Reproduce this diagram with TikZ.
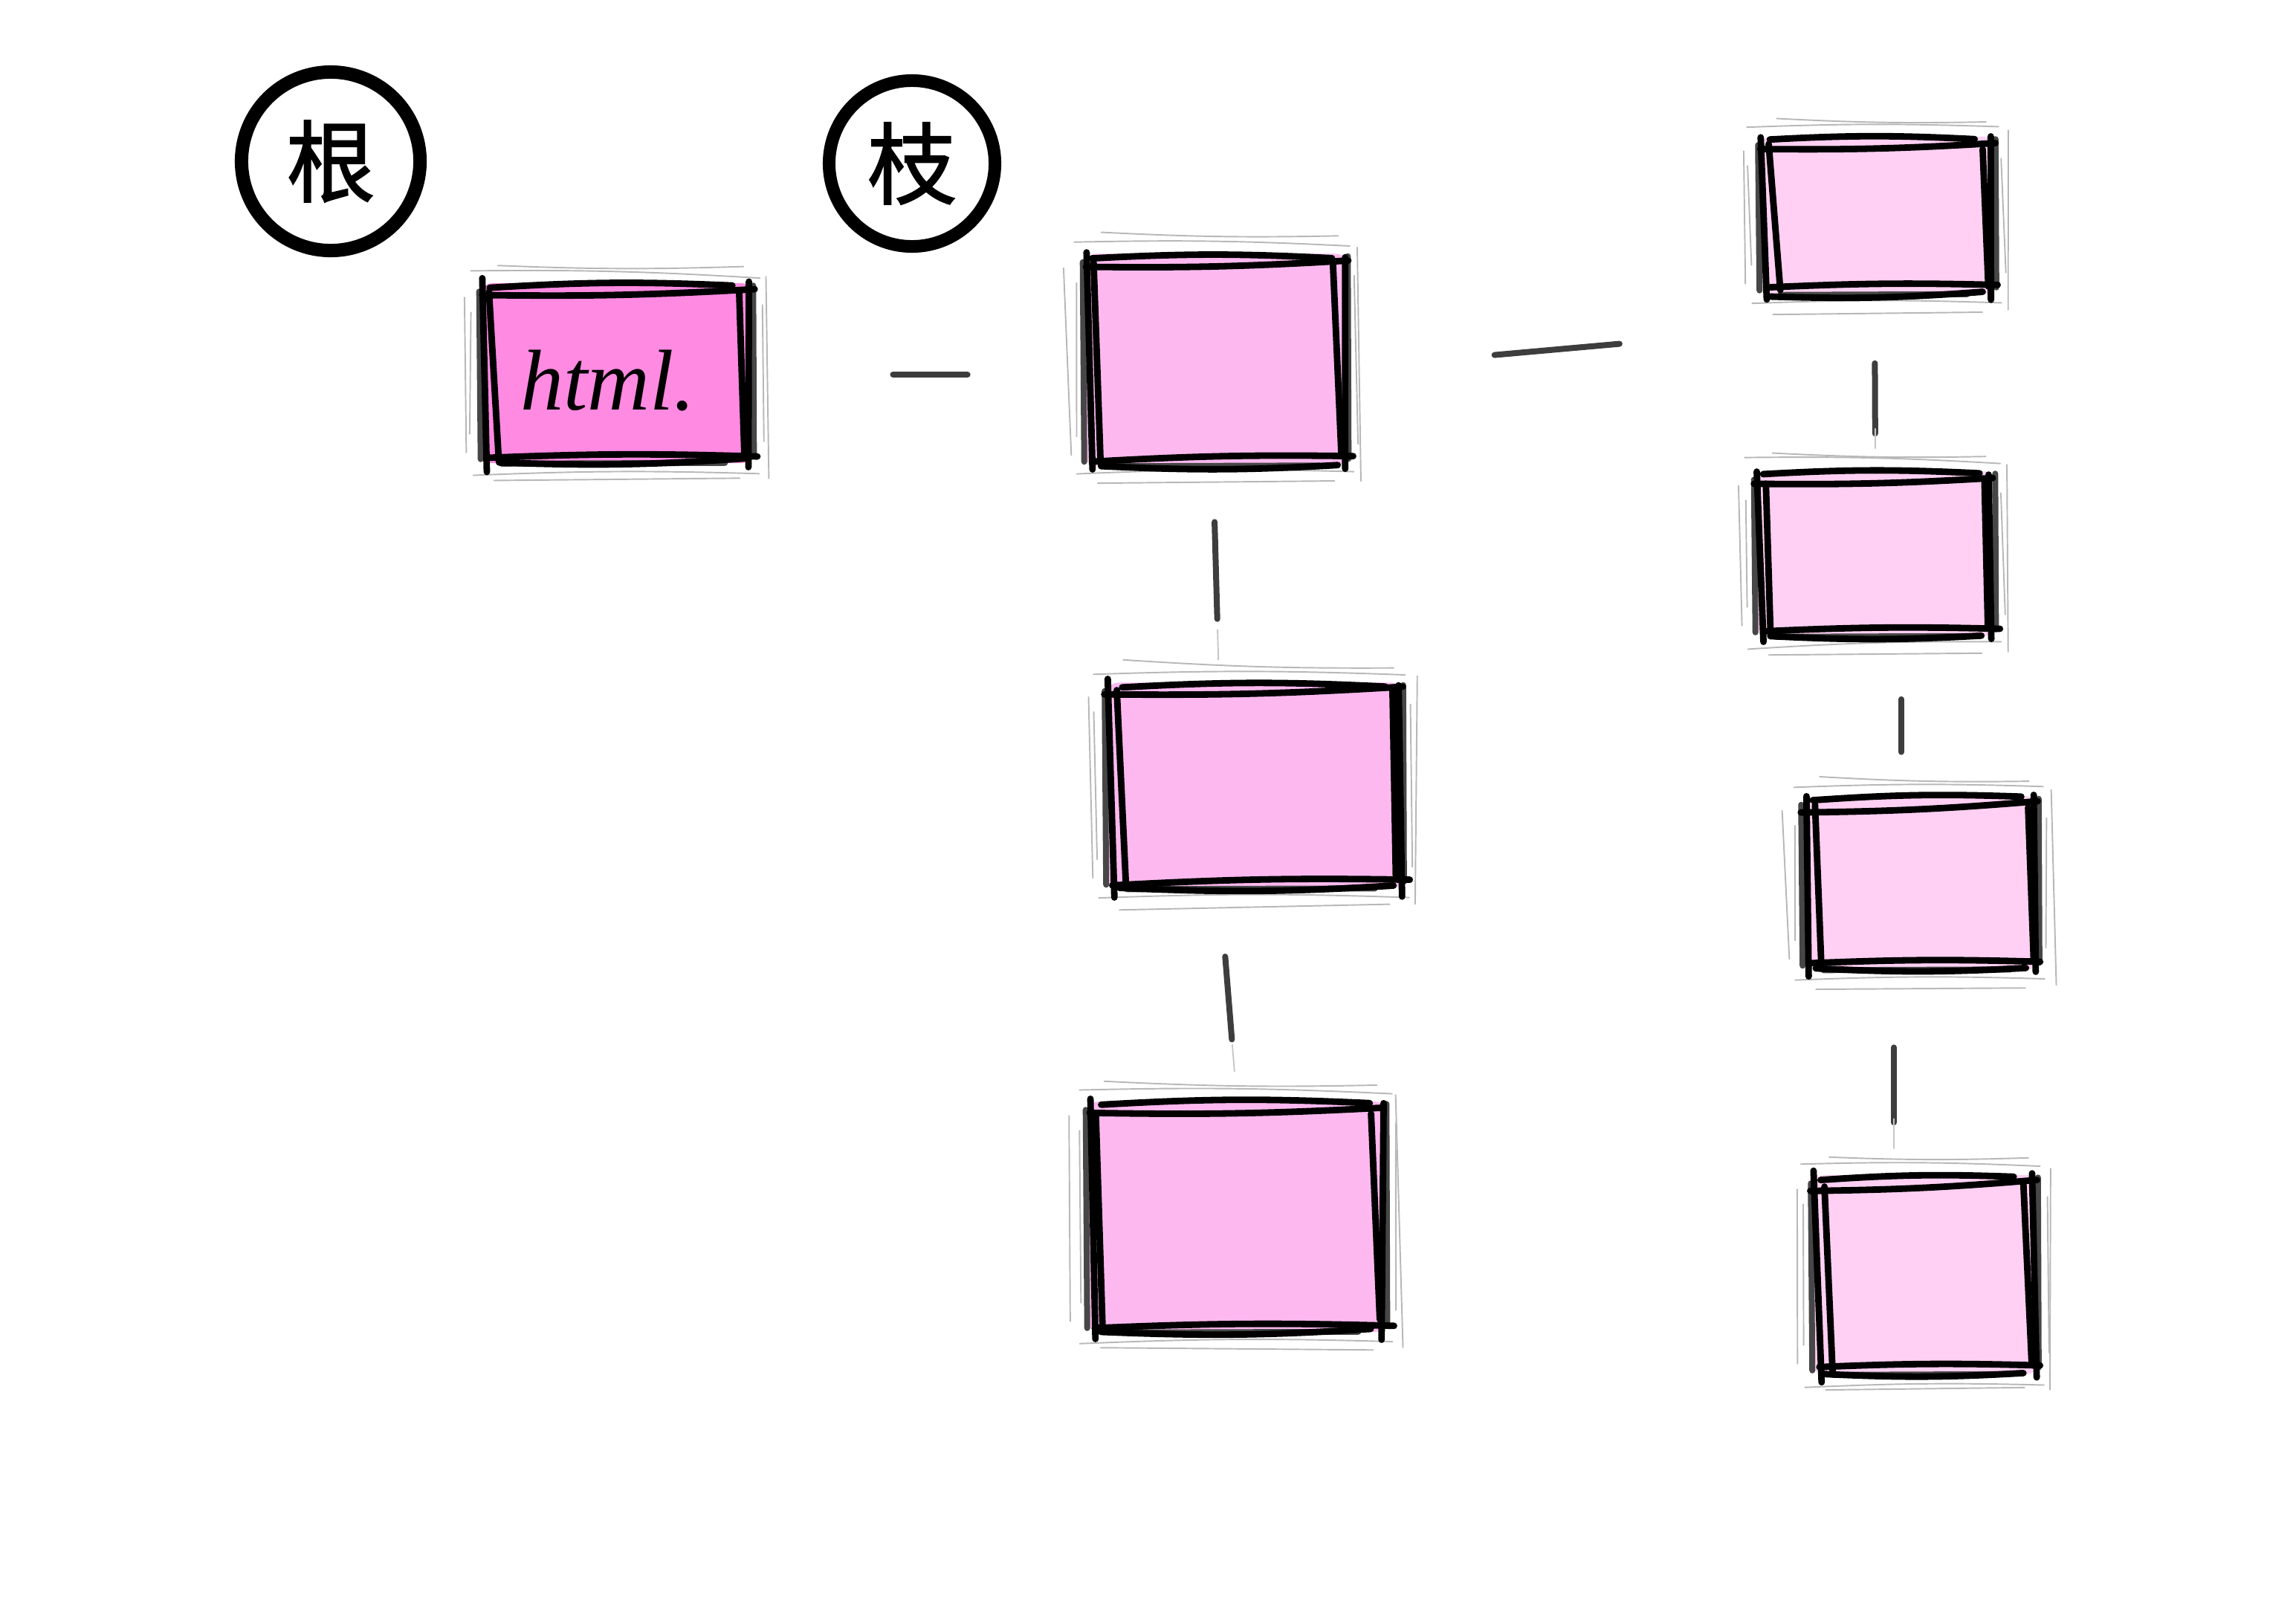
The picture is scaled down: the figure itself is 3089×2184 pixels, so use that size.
\documentclass[tikz,border=0pt]{standalone}
\usepackage{fontspec}
\newfontfamily\cjk[FakeBold=1.6]{Noto Sans CJK SC}
\newfontfamily\htmlfont{Liberation Serif}
\usetikzlibrary{calc}
\definecolor{htmlpink}{HTML}{FF8AE2}
\definecolor{bpink}{HTML}{FDB9EF}
\definecolor{cpink}{HTML}{FFD0F3}
\tikzset{
  sbox/.style={rectangle, rounded corners=0.18cm, draw=none, inner sep=0pt},
  pencil/.style={draw=black!28, line width=0.55pt, line cap=round},
  graystroke/.style={draw=black!72, line width=0.08cm, line cap=round},
  ink/.style={draw=black, line width=0.088cm, line cap=round},
  conn/.style={draw=black!76, line width=0.08cm, line cap=round},
  faint/.style={draw=black!22, line width=0.55pt, line cap=round},
  ring/.style={circle, draw=black, inner sep=0pt, font=\cjk\fontsize{34}{34}\selectfont},
  htmltext/.style={inner sep=0pt, font=\htmlfont\itshape\fontsize{33}{33}\selectfont}
}
\newcommand\sketchframe[1]{%
  % pencil
  \draw[pencil] ($(#1.north west)+({-12+4*rand},{-14+4*rand})$) to[bend left=2] ($(#1.north east)+({4+4*rand},{-10+4*rand})$);
  \draw[pencil] ($(#1.north west)+(25,{-26+4*rand})$) to[bend right=2] ($(#1.north east)+(-15,{-20+4*rand})$);
  \draw[pencil] ($(#1.north west)+({-22+4*rand},20)$) -- ($(#1.south west)+({-18+4*rand},-15)$);
  \draw[pencil] ($(#1.north west)+({-12+4*rand},40)$) -- ($(#1.south west)+({-10+4*rand},-40)$);
  \draw[pencil] ($(#1.north east)+({14+4*rand},-8)$) -- ($(#1.south east)+({18+4*rand},20)$);
  \draw[pencil] ($(#1.north east)+({8+3*rand},30)$) -- ($(#1.south east)+({10+3*rand},-30)$);
  \draw[pencil] ($(#1.south west)+(-8,{14+4*rand})$) to[bend left=2] ($(#1.south east)+(6,{10+4*rand})$);
  \draw[pencil] ($(#1.south west)+(20,{24+4*rand})$) -- ($(#1.south east)+(-20,{20+4*rand})$);
  % dark gray underlay
  \draw[graystroke] ($(#1.north west)+(0,12)$) -- ($(#1.south west)+(2,-6)$);
  \draw[graystroke] ($(#1.north east)+(-2,4)$) -- ($(#1.south east)+(-1,-10)$);
  \draw[graystroke] ($(#1.south west)+(30,0)$) -- ($(#1.south east)+(-40,-1)$);
  % black ink
  \draw[ink] ($(#1.north west)+({18+6*rand},{6+3*rand})$) to[bend left=3] ($(#1.north east)+({-30+8*rand},{4+3*rand})$);
  \draw[ink] ($(#1.north west)+({2+4*rand},{20+4*rand})$) to[bend right=2] ($(#1.north east)+({-2+4*rand},{8+3*rand})$);
  \draw[ink] ($(#1.south west)+({14+4*rand},{-8+3*rand})$) to[bend left=2] ($(#1.south east)+({4+6*rand},{-12+3*rand})$);
  \draw[ink] ($(#1.south west)+({22+6*rand},{0+3*rand})$) to[bend right=3] ($(#1.south east)+({-18+6*rand},{-4+3*rand})$);
  \draw[ink] ($(#1.north west)+({6+3*rand},{-2+4*rand})$) -- ($(#1.south west)+({12+3*rand},{8+4*rand})$);
  \draw[ink] ($(#1.north west)+({16+3*rand},{14+4*rand})$) -- ($(#1.south west)+({26+4*rand},{-6+4*rand})$);
  \draw[ink] ($(#1.north east)+({-8+3*rand},{2+4*rand})$) -- ($(#1.south east)+({-6+3*rand},{6+4*rand})$);
  \draw[ink] ($(#1.north east)+({-20+4*rand},{14+4*rand})$) -- ($(#1.south east)+({-12+4*rand},{-14+4*rand})$);
}
\begin{document}
\begin{tikzpicture}[x=0.01cm, y=-0.01cm]
\pgfmathsetseed{7}
\useasboundingbox (0,0) rectangle (3089,2184);

% header circles
\node[ring, minimum size=2.40cm, line width=0.18cm] (gen) at (445,217) {根};
\node[ring, minimum size=2.23cm, line width=0.17cm] (zhi) at (1227,220) {枝};

% boxes
\node[sbox, fill=htmlpink, minimum width=3.69cm, minimum height=2.42cm] (html) at (830,502) {};
\node[sbox, fill=bpink, minimum width=3.57cm, minimum height=2.85cm] (b1) at (1636,484) {};
\node[sbox, fill=bpink, minimum width=4.02cm, minimum height=2.77cm] (b2) at (1688,1057) {};
\node[sbox, fill=bpink, minimum width=4.05cm, minimum height=3.10cm] (b3) at (1664,1637) {};
\node[sbox, fill=cpink, minimum width=3.20cm, minimum height=2.12cm] (c1) at (2526,290) {};
\node[sbox, fill=cpink, minimum width=3.25cm, minimum height=2.22cm] (c2) at (2523,745) {};
\node[sbox, fill=cpink, minimum width=3.20cm, minimum height=2.33cm] (c3) at (2584,1188) {};
\node[sbox, fill=cpink, minimum width=3.06cm, minimum height=2.68cm] (c4) at (2590,1715) {};

\sketchframe{html}
\sketchframe{b1}
\sketchframe{b2}
\sketchframe{b3}
\sketchframe{c1}
\sketchframe{c2}
\sketchframe{c3}
\sketchframe{c4}

\node[htmltext] (htmllabel) at ($(html.center)+(-12,10)$) {html.};

% connectors
\draw[conn, shorten <=1.86cm, shorten >=1.55cm] ($(html.east)+(0,2)$) -- ($(b1.west)+(0,20)$);
\draw[conn, shorten <=1.96cm, shorten >=1.87cm] ($(b1.east)+(0,11)$) -- ($(c1.west)+(0,156)$);
\draw[conn, shorten <=0.75cm, shorten >=0.85cm] ($(b1.south)+(-4,0)$) -- ($(b2.north)+(-48,0)$);
\draw[conn, shorten <=0.91cm, shorten >=0.83cm] ($(b2.south)+(-47,0)$) -- ($(b3.north)+(0,0)$);
\draw[conn, shorten <=0.92cm, shorten >=0.50cm] ($(c1.south)+(-4,0)$) -- ($(c2.north)+(0,0)$);
\draw[conn, shorten <=0.84cm, shorten >=0.59cm] ($(c2.south)+(35,0)$) -- ($(c3.north)+(-26,0)$);
\draw[conn, shorten <=1.04cm, shorten >=0.70cm] ($(c3.south)+(-36,0)$) -- ($(c4.north)+(-42,0)$);

% faint pencil traces of connectors
\draw[faint, shorten <=2.2cm, shorten >=0.3cm] ($(b1.south)+(-4,0)$) -- ($(b2.north)+(-48,0)$);
\draw[faint, shorten <=2.1cm, shorten >=0.4cm] ($(b2.south)+(-47,0)$) -- ($(b3.north)+(0,0)$);
\draw[faint, shorten <=1.8cm, shorten >=0.3cm] ($(c1.south)+(-4,0)$) -- ($(c2.north)+(0,0)$);
\draw[faint, shorten <=2.0cm, shorten >=0.35cm] ($(c3.south)+(-36,0)$) -- ($(c4.north)+(-42,0)$);
\end{tikzpicture}
\end{document}
